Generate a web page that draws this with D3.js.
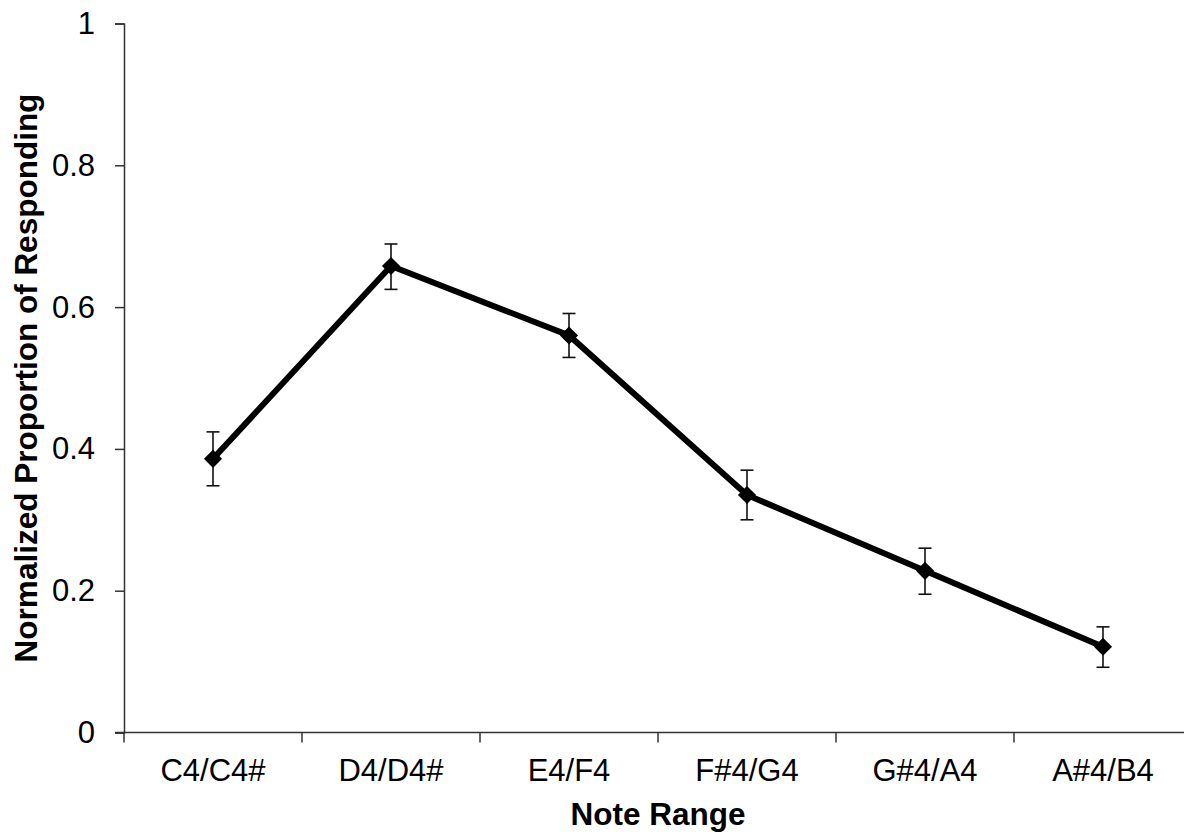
<!DOCTYPE html>
<html>
<head>
<meta charset="utf-8">
<script src="https://cdn.jsdelivr.net/npm/d3@7"></script>
<style>
  html, body { margin: 0; padding: 0; background: #fff; }
  svg { display: block; font-family: "Liberation Sans", Arial, sans-serif; }
</style>
</head>
<body>
<svg id="chart" width="1184" height="832"></svg>
<script>
// Note ranges and mean normalized responding, with error bar bounds
const categories = ["C4/C4#", "D4/D4#", "E4/F4", "F#4/G4", "G#4/A4", "A#4/B4"];
const means = [0.386, 0.658, 0.560, 0.335, 0.228, 0.121];
const upper = [0.424, 0.689, 0.591, 0.370, 0.260, 0.149];
const lower = [0.348, 0.625, 0.529, 0.300, 0.195, 0.092];
const yTicks = [0, 0.2, 0.4, 0.6, 0.8, 1];
const yTickLabels = ["0", "0.2", "0.4", "0.6", "0.8", "1"];

const svg = d3.select("#chart");
const plotLeft = 124, plotRight = 1192, plotTop = 23.5, plotBottom = 732.5;

const x = d3.scaleBand().domain(categories).range([plotLeft, plotRight]);
const y = d3.scaleLinear().domain([0, 1]).range([plotBottom, plotTop]);

const axisColor = "#333";
const tickFont = 31;
const titleFont = 31.5;

// y axis
const yAxis = svg.append("g")
  .attr("transform", `translate(${plotLeft},0)`)
  .call(d3.axisLeft(y).tickValues(yTicks)
    .tickFormat((d, i) => yTickLabels[i]).tickSize(9).tickPadding(20));
yAxis.select(".domain").attr("stroke", axisColor).attr("stroke-width", 1.5);
yAxis.selectAll(".tick line").attr("stroke", axisColor).attr("stroke-width", 1.5);
yAxis.selectAll(".tick text").attr("font-size", tickFont).attr("fill", "#000")
  .attr("font-family", "Liberation Sans, Arial, sans-serif");

// x axis with ticks at band boundaries
const xAxisG = svg.append("g").attr("transform", `translate(0,${plotBottom})`);
xAxisG.append("line")
  .attr("x1", plotLeft - 9).attr("x2", 1184)
  .attr("stroke", axisColor).attr("stroke-width", 1.5);
const boundaries = categories.map(c => x(c)).concat([x(categories[categories.length - 1]) + x.bandwidth()]);
xAxisG.selectAll("line.tk").data(boundaries).join("line").attr("class", "tk")
  .attr("x1", d => d).attr("x2", d => d).attr("y1", 0).attr("y2", 10)
  .attr("stroke", axisColor).attr("stroke-width", 1.5);
xAxisG.selectAll("text").data(categories).join("text")
  .attr("x", d => x(d) + x.bandwidth() / 2)
  .attr("y", 48.5)
  .attr("text-anchor", "middle")
  .attr("font-size", tickFont)
  .text(d => d);

// axis titles
svg.append("text")
  .attr("x", 658).attr("y", 825)
  .attr("text-anchor", "middle").attr("font-size", titleFont).attr("font-weight", "bold")
  .text("Note Range");
svg.append("text")
  .attr("transform", `translate(37,${(plotTop + plotBottom) / 2}) rotate(-90)`)
  .attr("text-anchor", "middle").attr("font-size", titleFont).attr("font-weight", "bold")
  .text("Normalized Proportion of Responding");

const cx = d => x(d) + x.bandwidth() / 2;

// error bars
const eb = svg.append("g").attr("stroke", "#111").attr("stroke-width", 1.6);
categories.forEach((c, i) => {
  eb.append("line").attr("x1", cx(c)).attr("x2", cx(c)).attr("y1", y(upper[i])).attr("y2", y(lower[i]));
  eb.append("line").attr("x1", cx(c) - 6.5).attr("x2", cx(c) + 6.5).attr("y1", y(upper[i])).attr("y2", y(upper[i]));
  eb.append("line").attr("x1", cx(c) - 6.5).attr("x2", cx(c) + 6.5).attr("y1", y(lower[i])).attr("y2", y(lower[i]));
});

// mean line
const line = d3.line().x((d, i) => cx(categories[i])).y(d => y(d));
svg.append("path").datum(means)
  .attr("d", line).attr("fill", "none")
  .attr("stroke", "#000").attr("stroke-width", 6).attr("stroke-linejoin", "miter");

// diamond markers
const diamond = d3.symbol().type(d3.symbolDiamond2).size(210);
svg.selectAll("path.mk").data(means).join("path").attr("class", "mk")
  .attr("d", diamond)
  .attr("transform", (d, i) => `translate(${cx(categories[i])},${y(d)})`)
  .attr("fill", "#000");
</script>
</body>
</html>
